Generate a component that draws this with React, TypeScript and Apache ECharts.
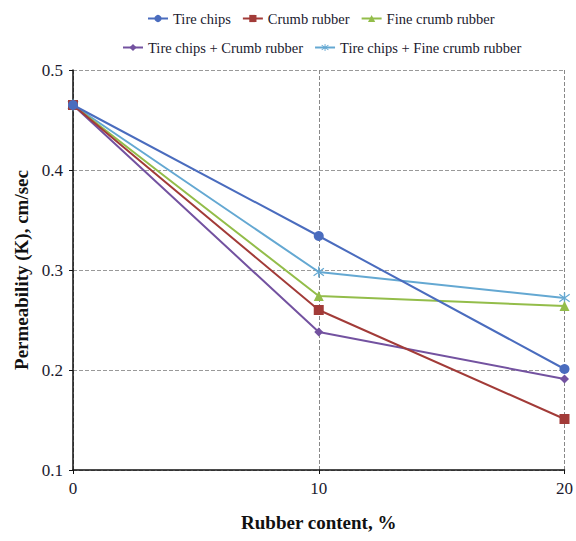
import React, { useEffect, useRef } from "react";
import * as echarts from "echarts";

const rubberContent = [0, 10, 20];
const tireChips = [0.465, 0.334, 0.201];
const crumbRubber = [0.465, 0.26, 0.151];
const fineCrumbRubber = [0.465, 0.274, 0.264];
const tireCrumb = [0.465, 0.238, 0.191];
const tireFine = [0.465, 0.298, 0.272];

const seriesNames = [
  "Tire chips",
  "Crumb rubber",
  "Fine crumb rubber",
  "Tire chips + Crumb rubber",
  "Tire chips + Fine crumb rubber",
];
const seriesColors = ["#4A6CBE", "#A23B38", "#93BD4A", "#7352A0", "#64A8D2"];
const seriesValues = [tireChips, crumbRubber, fineCrumbRubber, tireCrumb, tireFine];

const asterisk =
  "path://M4.4 0 h1.2 v10 h-1.2z M0.2 2.1 L0.8 1.1 L9.8 7.9 L9.2 8.9z M0.2 7.9 L9.2 1.1 L9.8 2.1 L0.8 8.9z";
const symbols = ["circle", "rect", "triangle", "diamond", asterisk];
const symbolSizes = [10, 10, 10, 9, 11];

const FONT = "Times New Roman";

export default function App() {
  const ref = useRef<HTMLDivElement>(null);
  useEffect(() => {
    if (!ref.current) return;
    const chart = echarts.init(ref.current, null, { renderer: "svg" });
    const legendText = { fontFamily: FONT, fontSize: 14.5, color: "#1a1a2e" };
    chart.setOption({
      animation: false,
      backgroundColor: "#fff",
      textStyle: { fontFamily: FONT },
      legend: [
        {
          data: seriesNames.slice(0, 3),
          top: 6,
          left: 142,
          itemWidth: 20,
          itemHeight: 9,
          itemGap: 11,
          textStyle: legendText,
        },
        {
          data: seriesNames.slice(3),
          top: 35,
          left: 117,
          itemWidth: 20,
          itemHeight: 9,
          itemGap: 11,
          textStyle: legendText,
        },
      ],
      grid: { left: 73, right: 9, top: 70, bottom: 71 },
      xAxis: {
        type: "value",
        min: 0,
        max: 20,
        interval: 10,
        name: "Rubber content, %",
        nameLocation: "middle",
        nameGap: 43,
        nameTextStyle: { fontFamily: FONT, fontSize: 19, fontWeight: "bold", color: "#111" },
        axisLine: { lineStyle: { color: "#111", width: 1.5 } },
        axisTick: { show: true, length: 4, lineStyle: { color: "#111" } },
        axisLabel: { fontFamily: FONT, fontSize: 17, color: "#1a1a2e", margin: 10 },
        splitLine: { show: true, lineStyle: { type: "dashed", color: "#888", width: 1 } },
      },
      yAxis: {
        type: "value",
        min: 0.1,
        max: 0.5,
        interval: 0.1,
        name: "Permeability (K), cm/sec",
        nameLocation: "middle",
        nameGap: 42,
        nameTextStyle: { fontFamily: FONT, fontSize: 19, fontWeight: "bold", color: "#111" },
        axisLine: { show: true, lineStyle: { color: "#111", width: 1.5 } },
        axisTick: { show: true, length: 4, lineStyle: { color: "#111" } },
        axisLabel: {
          fontFamily: FONT,
          fontSize: 17,
          color: "#1a1a2e",
          margin: 10,
          formatter: (v: number) => v.toFixed(1),
        },
        splitLine: { show: true, lineStyle: { type: "dashed", color: "#999", width: 1 } },
      },
      series: seriesNames.map((name, i) => ({
        name,
        type: "line",
        data: rubberContent.map((x, j) => [x, seriesValues[i][j]]),
        symbol: symbols[i],
        symbolSize: symbolSizes[i],
        showSymbol: true,
        lineStyle: { color: seriesColors[i], width: 2 },
        itemStyle: { color: seriesColors[i] },
        z: 5 - i,
      })),
    });
    return () => chart.dispose();
  }, []);
  return (
    <div
      ref={ref}
      style={{ position: "fixed", left: 0, top: 0, width: 576, height: 541 }}
    />
  );
}
